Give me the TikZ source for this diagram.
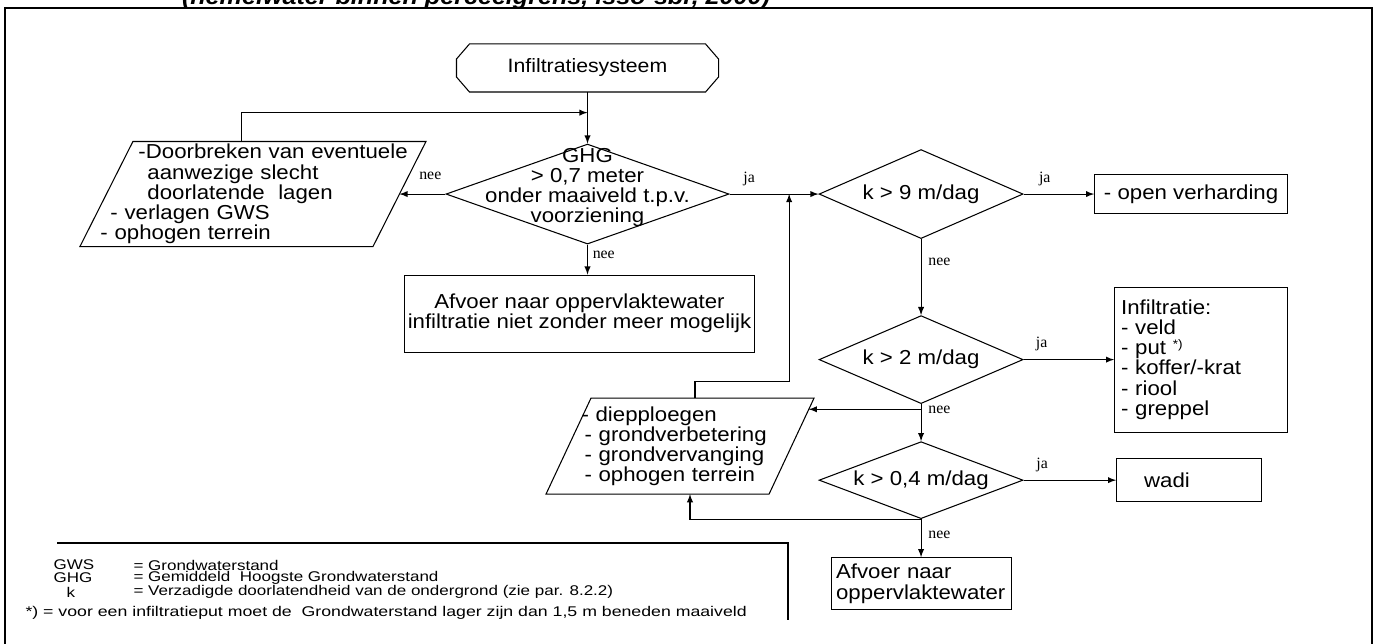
\documentclass[tikz,border=0pt]{standalone}
\usepackage{fontspec}
\setmainfont{Liberation Sans}[FakeStretch=1.1]
\newfontfamily\serfont{Liberation Serif}
\newfontfamily\legfont{Liberation Sans}[FakeStretch=1.21]
\newfontfamily\notefont{Liberation Sans}[FakeStretch=1.26]
\usepackage{tikz}
\usetikzlibrary{shapes.geometric, positioning, calc}

\tikzset{
  main/.style={font=\fontsize{11.5}{11.5}\selectfont},
  box/.style={draw, rectangle, main, inner sep=2pt},
  start/.style={rectangle, minimum width=5.22cm, minimum height=0.94cm,
        font=\fontsize{11}{11}\selectfont},
  decision/.style={draw, diamond, inner sep=0pt},
  manual/.style={rectangle, inner sep=0pt, main, align=left},
  lbl/.style={font=\serfont\fontsize{9}{9}\selectfont, inner sep=1pt},
  legend/.style={font=\legfont\fontsize{8}{8}\selectfont, inner sep=0pt, anchor=west}
}

\begin{document}
\begin{tikzpicture}[line width=0.6pt, >=latex]
    \useasboundingbox (0,0) rectangle (27.56,-12.88);
    \clip (0,0) rectangle (27.56,-12.88);
    % frame and caption
    \draw[line width=1.4pt] (0.1,-0.16) rectangle (27.44,-13.3);
    \node[font=\fontsize{13}{13}\selectfont\bfseries\itshape, anchor=base] (caption) at (9.52,-0.1)
        {(hemelwater binnen perceelgrens, isso-sbr, 2000)};

    % Add the steps
    \node[start] (start) at (11.75,-1.36) {Infiltratiesysteem};
    \draw ([xshift=0.26cm]start.north west) -- ([xshift=-0.26cm]start.north east)
        -- ([yshift=0.18cm]start.east) -- ([yshift=-0.18cm]start.east)
        -- ([xshift=-0.26cm]start.south east) -- ([xshift=0.26cm]start.south west)
        -- ([yshift=-0.18cm]start.west) -- ([yshift=0.18cm]start.west) -- cycle;
    \node[decision,
          below=1.03 cm of start,
          minimum width=5.66cm, minimum height=2cm,
          label={[main, align=center, yshift=0.13cm]center:{GHG\\> 0,7 meter\\onder maaiveld t.p.v.\\voorziening}}
          ] (ghg) {};
    \node[manual,
          left=0.39 cm of ghg,
          minimum height=2.08cm, text width=6.9cm
          ] (lp) {\hspace*{1.16cm}-Doorbreken van eventuele\\\hspace*{1.34cm}aanwezige slecht\\\hspace*{1.34cm}doorlatende\ \ lagen\\\hspace*{0.6cm}- verlagen GWS\\\hspace*{0.4cm}- ophogen terrein};
    \draw ([xshift=1.06cm]lp.north west) -- (lp.north east)
        -- ([xshift=-1.06cm]lp.south east) -- (lp.south west) -- cycle;
    \node[box,
          below=0.6 cm of ghg, xshift=-0.16cm,
          minimum width=7cm, minimum height=1.54cm,
          align=center
          ] (afv1) {Afvoer naar oppervlaktewater\\infiltratie niet zonder meer mogelijk};
    \node[decision,
          right=1.78 cm of ghg,
          minimum width=4.08cm, minimum height=1.78cm,
          label={[main]center:k > 9 m/dag}
          ] (k9) {};
    \node[box,
          right=1.41 cm of k9,
          minimum width=3.86cm, minimum height=0.78cm
          ] (ov) {- open verharding};
    \node[decision,
          below=1.52 cm of k9,
          minimum width=4.08cm, minimum height=1.76cm,
          label={[main]center:k > 2 m/dag}
          ] (k2) {};
    \node[box,
          right=1.81 cm of k2,
          text width=3.2cm, inner sep=0.13cm,
          minimum height=2.9cm, align=left
          ] (infil) {Infiltratie:\\- veld\\- put \smash{\raisebox{0.6ex}{\fontsize{7}{7}\selectfont *)}}\\- koffer/-krat\\- riool\\- greppel};
    \node[decision,
          below=0.74 cm of k2,
          minimum width=4.08cm, minimum height=1.54cm,
          label={[main]center:k > 0,4 m/dag}
          ] (k04) {};
    \node[box,
          right=1.85 cm of k04,
          text width=2.6cm, inner sep=0.15cm,
          minimum height=0.86cm, align=left
          ] (wadi) {\hspace*{0.4cm}wadi};
    \node[box,
          below=0.76 cm of k04,
          text width=3.4cm, inner sep=0.1cm,
          minimum height=1.04cm, align=left
          ] (afv2) {Afvoer naar\\oppervlaktewater};
    \node[manual,
          left=0.09 cm of k04, yshift=0.68cm,
          minimum height=1.9cm, text width=5.34cm
          ] (lp2) {\hspace*{0.7cm}- diepploegen\\\hspace*{0.76cm}- grondverbetering\\\hspace*{0.76cm}- grondvervanging\\\hspace*{0.76cm}- ophogen terrein};
    \draw ([xshift=0.9cm]lp2.north west) -- (lp2.north east)
        -- ([xshift=-0.9cm]lp2.south east) -- (lp2.south west) -- cycle;

    % helper points on the lines
    \coordinate (m1) at ($(start.south)!0.4!(ghg.north)$);
    \coordinate (m2) at ($(ghg.east)!0.67!(k9.west)$);
    \coordinate (r1) at ([xshift=-0.53cm]lp.east);
    \coordinate (r2) at ($(lp2.north east)!0.116!([xshift=-0.9cm]lp2.south east)$);
    \coordinate (j2) at (k2.south |- r2);

    \draw[->]
        (start) edge (ghg)
        (ghg) edge node[lbl, above=0.12cm, pos=0.22] (y1) {ja} (k9)
        (k9) edge node[lbl, above=0.12cm, pos=0.3] (y2) {ja} (ov)
        (k9) edge node[lbl, right=0.1cm, pos=0.3] (n3) {nee} (k2)
        (k2) edge node[lbl, above=0.12cm, pos=0.2] (y3) {ja} (infil)
        (k2) edge node[lbl, right=0.1cm, pos=0.15] (n4) {nee} (k04)
        (k04) edge node[lbl, above=0.12cm, pos=0.2] (y4) {ja} (wadi)
        (k04) edge node[lbl, right=0.1cm, pos=0.42] (n5) {nee} (afv2);
    \draw[->] (ghg.west) -- node[lbl, above=0.25cm, pos=0.33] (n1) {nee} (r1);
    \draw[->] (ghg.south) -- node[lbl, right=0.06cm, pos=0.33] (n2) {nee} (ghg.south |- afv1.north);
    \draw[->] ([xshift=-0.22cm]lp.north) |- (m1);
    \draw[->] ([xshift=0.3cm]lp2.north) -- ++(0,0.34) -| (m2);
    \draw[->] (j2) -- (r2);
    \draw[->] (k04.south) -| ([xshift=0.2cm]lp2.south);

    % legend
    \draw (1.14,-10.86) -- (15.76,-10.86) -- (15.76,-12.4);
    \node[legend] (gws) at (1.06,-11.3) {GWS};
    \node[legend] (gwst) at (2.66,-11.3) {= Grondwaterstand};
    \node[legend] (ghgl) at (1.06,-11.56) {GHG};
    \node[legend] (ghgt) at (2.66,-11.56) {= Gemiddeld\ \ Hoogste Grondwaterstand};
    \node[legend] (kl) at (1.32,-11.84) {k};
    \node[legend] (kt) at (2.66,-11.84) {= Verzadigde doorlatendheid van de ondergrond (zie par. 8.2.2)};
    \node[legend, font=\notefont\fontsize{8}{8}\selectfont] (note) at (0.5,-12.26)
        {*) = voor een infiltratieput moet de\ \ Grondwaterstand lager zijn dan 1,5 m beneden maaiveld};
\end{tikzpicture}
\end{document}
